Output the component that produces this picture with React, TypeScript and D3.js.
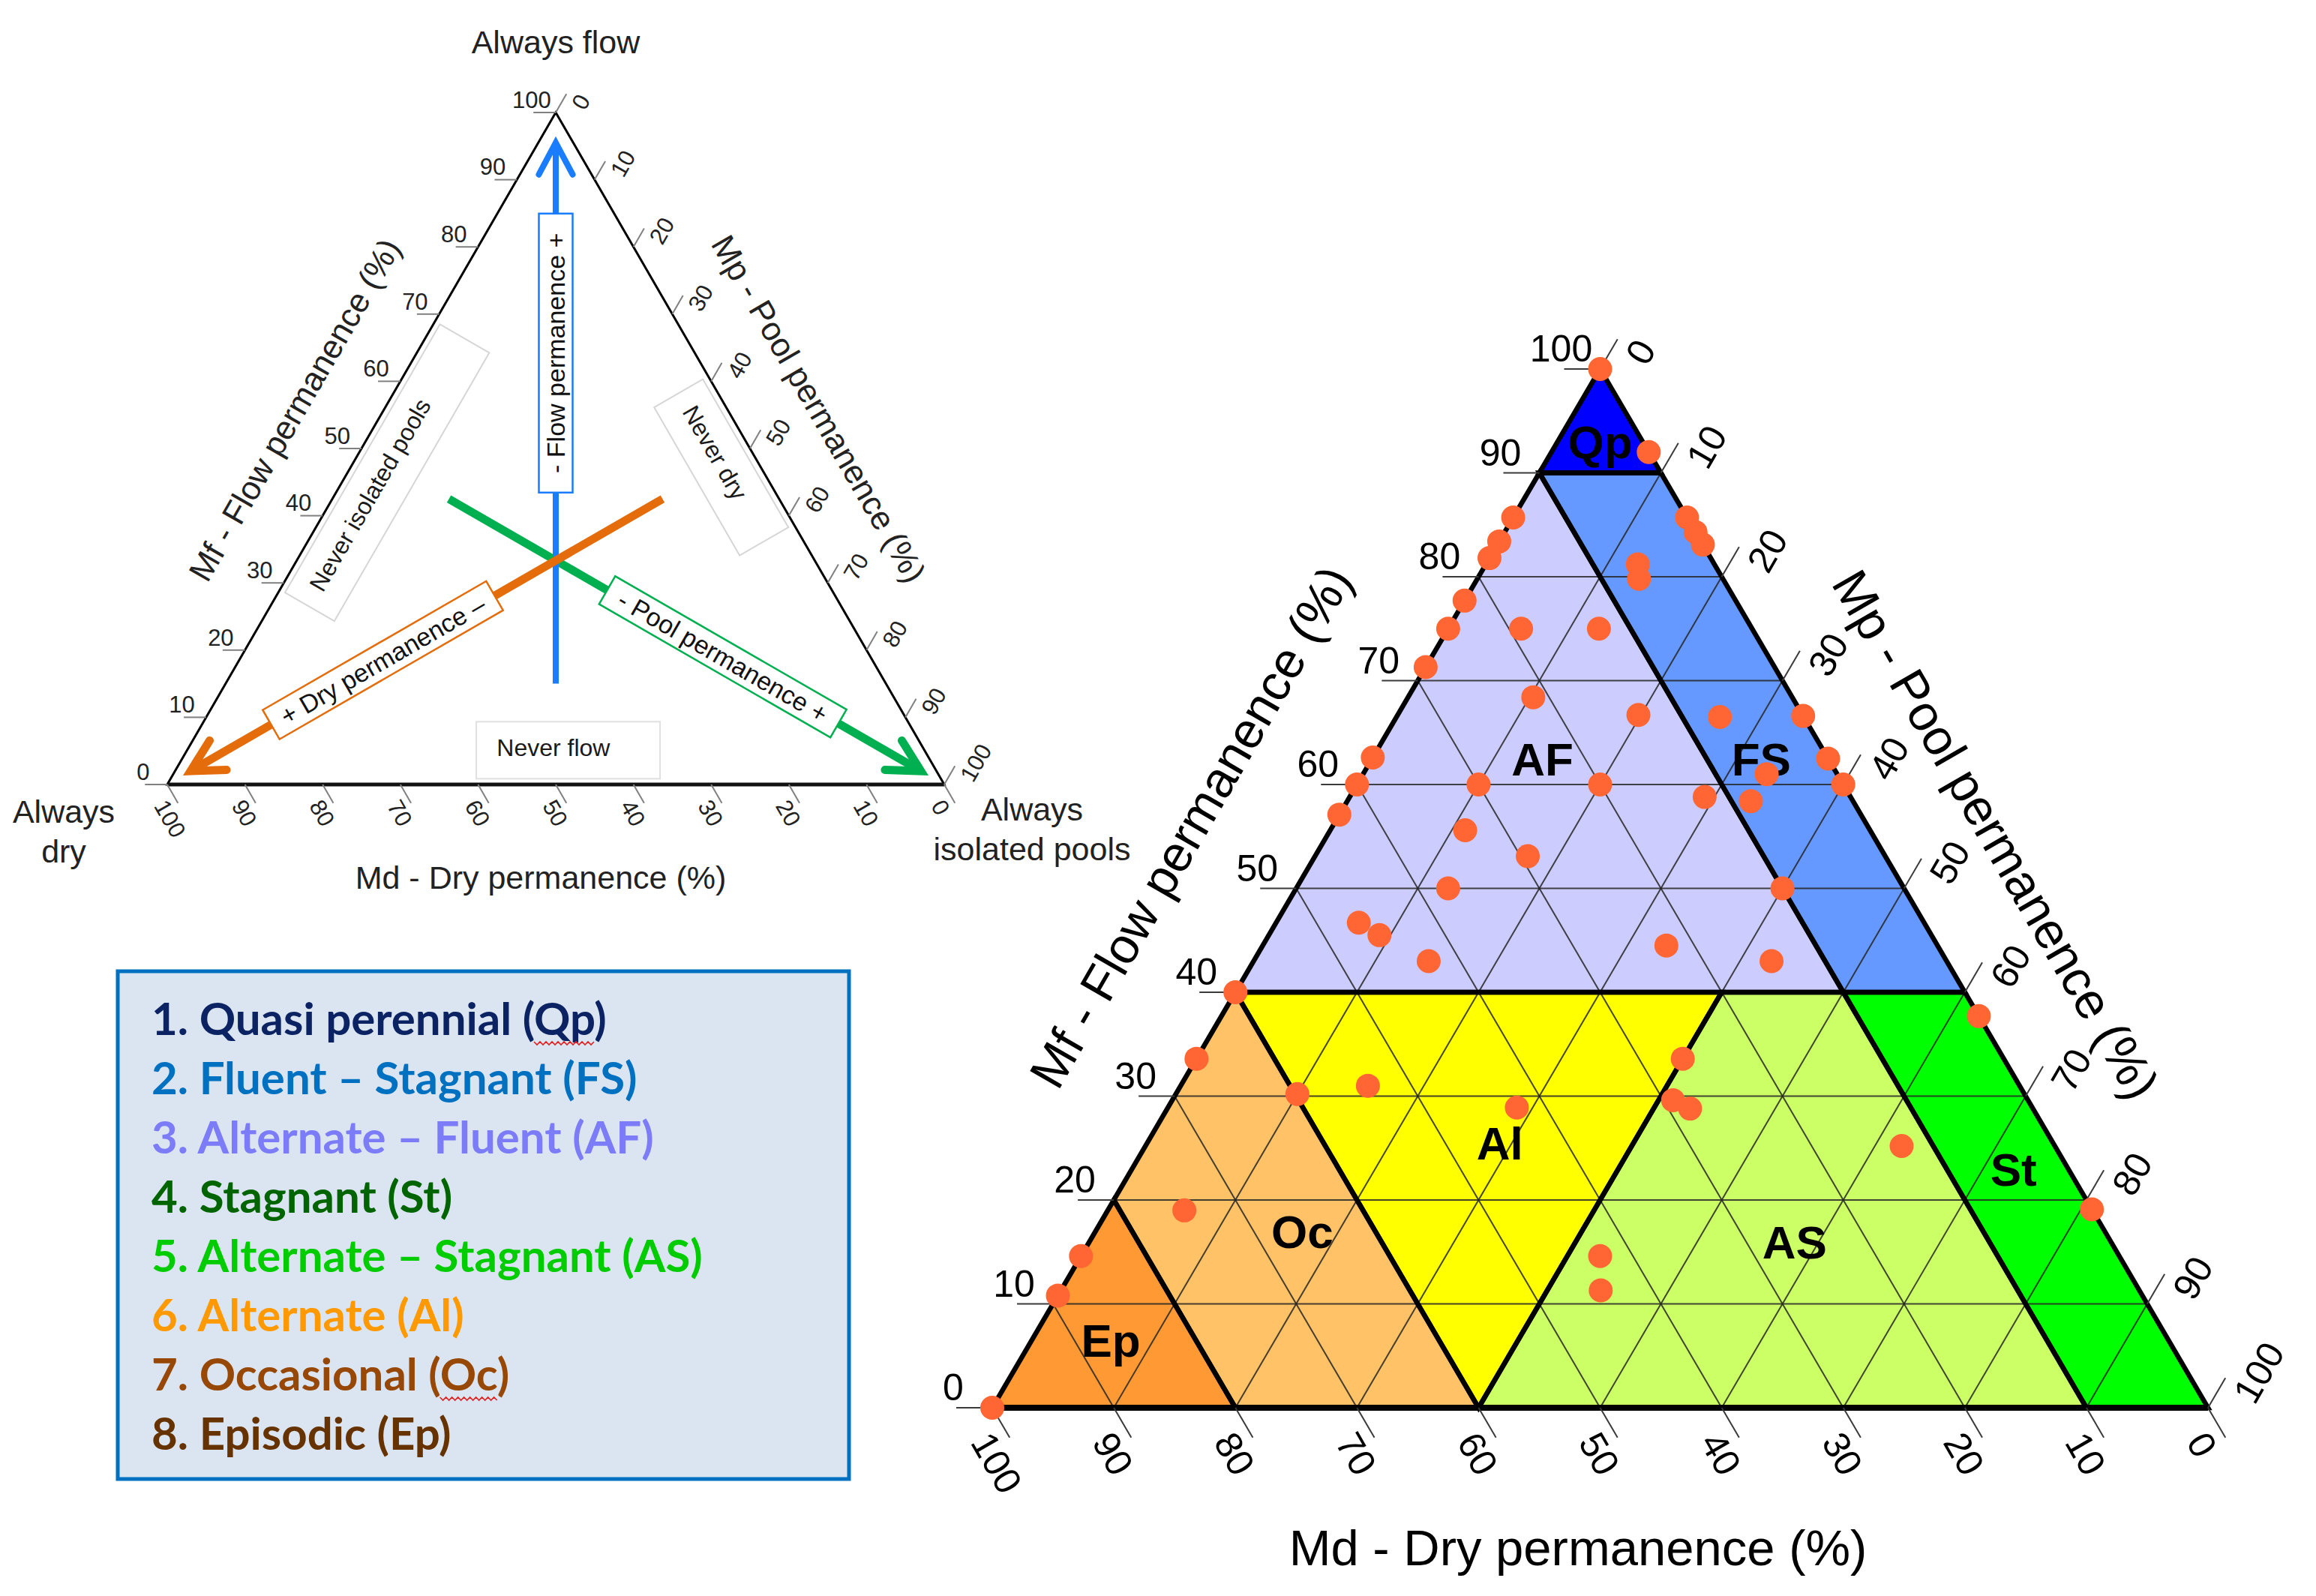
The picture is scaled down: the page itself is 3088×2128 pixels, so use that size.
import React, { useEffect, useRef } from "react";
import * as d3 from "d3";

const W = 3088;
const H = 2128;
const FONT = "'Liberation Sans', Arial, Helvetica, sans-serif";
const LEGEND_FONT = "Lato, 'Open Sans', 'Noto Sans', sans-serif";

// ---- tick labels shared by the three axes ----
const tickLabels = [0, 10, 20, 30, 40, 50, 60, 70, 80, 90, 100];

// ---- sites: Mf (flow), Md (dry), Mp (pool) permanence, % ----
const flowPerm = [100, 92, 85.7, 83.4, 81.8, 85.7, 84.3, 83.1, 81.2, 79.8, 77.7, 75, 75, 75, 71.3, 68.4, 66.7, 66.5, 66.6, 62.5, 61, 60, 58.4, 58.8, 60, 60, 62.6, 60, 57.1, 55.6, 53.1, 50, 50, 46.7, 45.5, 43, 44.5, 43, 40, 33.6, 30.2, 31, 28.9, 33.6, 29.6, 28.8, 37.7, 25.2, 19.1, 19, 14.6, 10.8, 14.6, 11.3, 0];
const dryPerm = [0, 0, 14.3, 16.6, 18.2, 0, 0, 0, 6.3, 6.9, 22.3, 25, 19, 12.6, 28.7, 21.3, 13.5, 6.9, 0, 0, 5.8, 0, 8.4, 12, 30, 20, 37.4, 40, 42.9, 33.3, 29.4, 37.5, 10, 46.5, 45.4, 42.6, 22.3, 14.4, 60, 66.4, 59.8, 53.6, 42.4, 26.4, 29.2, 28.2, 0, 12.6, 0, 74.7, 85.4, 89.2, 42.7, 44.3, 100];
const poolPerm = [0, 8, 0, 0, 0, 14.3, 15.7, 16.9, 12.5, 13.3, 0, 0, 6, 12.4, 0, 10.3, 19.8, 26.6, 33.4, 37.5, 33.2, 40, 33.2, 29.2, 10, 20, 0, 0, 0, 11.1, 17.5, 12.5, 40, 6.8, 9.1, 14.4, 33.2, 42.6, 0, 0, 10, 15.4, 28.7, 40, 41.2, 43, 62.3, 62.2, 80.9, 6.3, 0, 0, 42.7, 44.4, 0];

// ---- regime classes (corners as [Mf, Md, Mp]) ----
const regimeCodes = ["Qp", "FS", "AF", "St", "AS", "Al", "Oc", "Ep"];
const regimeFill = ["#0000FF", "#6699FF", "#CCCCFF", "#00FF00", "#CCFF66", "#FFFF00", "#FFC266", "#FF9933"];
const regimeCorners = [
  [[100, 0, 0], [90, 10, 0], [90, 0, 10]],
  [[90, 10, 0], [90, 0, 10], [40, 0, 60], [40, 10, 50]],
  [[90, 10, 0], [40, 10, 50], [40, 60, 0]],
  [[40, 10, 50], [40, 0, 60], [0, 0, 100], [0, 10, 90]],
  [[40, 10, 50], [0, 10, 90], [0, 60, 40], [40, 20, 40]],
  [[40, 60, 0], [40, 20, 40], [0, 60, 40]],
  [[40, 60, 0], [0, 60, 40], [0, 80, 20], [20, 80, 0]],
  [[20, 80, 0], [0, 80, 20], [0, 100, 0]],
];
const regimeLabelAt = [[93, 3.5, 3.5], [62.5, 5.5, 32], [62.5, 23.5, 14], [23, 4.5, 72.5], [16, 26, 58], [25.5, 45.5, 29], [17, 66, 17], [6.5, 87, 6.5]];

// ---- legend ----
const legendLabels = [
  "1. Quasi perennial (Qp)",
  "2. Fluent \u2013 Stagnant (FS)",
  "3. Alternate \u2013 Fluent (AF)",
  "4. Stagnant (St)",
  "5. Alternate \u2013 Stagnant (AS)",
  "6. Alternate (Al)",
  "7. Occasional (Oc)",
  "8. Episodic (Ep)",
];
const legendColors = ["#0C2363", "#0070C0", "#7C7CF8", "#006400", "#00CC00", "#FF9900", "#974806", "#663300"];
const legendFlagged = ["Qp", "", "", "", "", "", "Oc", ""];

type P = [number, number];
type Sel = d3.Selection<any, any, any, any>;

function ternary(xl: number, xr: number, yb: number, ya: number) {
  const sx = d3.scaleLinear().domain([0, 100]).range([xl, xr]);
  const sy = d3.scaleLinear().domain([0, 100]).range([yb, ya]);
  return (mf: number, md: number, mp: number): P => {
    const s = (mf + md + mp) / 100;
    const f = mf / s;
    const p = mp / s;
    return [sx(p + f / 2), sy(f)];
  };
}

function unit(a: P, b: P): P {
  const dx = b[0] - a[0];
  const dy = b[1] - a[1];
  const l = Math.hypot(dx, dy);
  return [dx / l, dy / l];
}

function seg(g: Sel, a: P, b: P) {
  return g.append("line").attr("x1", a[0]).attr("y1", a[1]).attr("x2", b[0]).attr("y2", b[1]);
}

function label(g: Sel, x: number, y: number, s: string, size: number, o: any = {}) {
  const t = g
    .append("text")
    .attr("transform", `translate(${x},${y})${o.rotate ? ` rotate(${o.rotate})` : ""}`)
    .attr("font-family", o.family || FONT)
    .attr("font-size", size)
    .attr("text-anchor", o.anchor || "middle")
    .attr("fill", o.fill || "#000")
    .text(s);
  if (o.weight) t.attr("font-weight", o.weight);
  if (o.dy) t.attr("dy", o.dy);
  return t;
}

function drawAxes(g: Sel, T: (a: number, b: number, c: number) => P, k: number, tickColor: string, labelColor: string) {
  const apex = T(100, 0, 0), bl = T(0, 100, 0), br = T(0, 0, 100);
  const dMd = unit(apex, br);
  const dMp = unit(bl, apex);
  const tickLen = 46 * k;
  const fs = 50 * k;
  const ticks = g.append("g").attr("stroke", tickColor).attr("stroke-width", 2);
  tickLabels.forEach((v) => {
    const e = T(v, 100 - v, 0);
    seg(ticks, [e[0] - 48 * k, e[1]], e);
    label(g, e[0] - 52 * k, e[1] - 10 * k, String(v), fs, { fill: labelColor });
    const b = T(0, v, 100 - v);
    seg(ticks, b, [b[0] + dMd[0] * tickLen, b[1] + dMd[1] * tickLen]);
    label(g, b[0] - 30 * k, b[1] + 46 * k, String(v), fs, { anchor: "start", rotate: 60, fill: labelColor });
    const r = T(100 - v, 0, v);
    seg(ticks, r, [r[0] + dMp[0] * tickLen, r[1] + dMp[1] * tickLen]);
    label(g, r[0] + 62 * k, r[1] - 2 * k, String(v), fs, { anchor: "start", rotate: -60, fill: labelColor });
  });
}

function edgeTitles(g: Sel, T: (a: number, b: number, c: number) => P, dl: number, dr: number, size: number, fill: string) {
  const apex = T(100, 0, 0), bl = T(0, 100, 0), br = T(0, 0, 100);
  const ml: P = [(apex[0] + bl[0]) / 2, (apex[1] + bl[1]) / 2];
  const el = unit(bl, apex);
  const nl: P = [el[1], -el[0]];
  label(g, ml[0] + nl[0] * dl, ml[1] + nl[1] * dl, "Mf - Flow permanence (%)", size, { rotate: -60, dy: "0.35em", fill });
  const mr: P = [(apex[0] + br[0]) / 2, (apex[1] + br[1]) / 2];
  const er = unit(apex, br);
  const nr: P = [er[1], -er[0]];
  label(g, mr[0] + nr[0] * dr, mr[1] + nr[1] * dr, "Mp - Pool permanence (%)", size, { rotate: 60, dy: "0.35em", fill });
}

function arrow(g: Sel, from: P, tip: P, color: string, w: number) {
  seg(g, from, tip).attr("stroke", color).attr("stroke-width", w);
  const back = unit(tip, from);
  const ang = (28 * Math.PI) / 180;
  const len = 48;
  const rot = (v: P, a: number): P => [v[0] * Math.cos(a) - v[1] * Math.sin(a), v[0] * Math.sin(a) + v[1] * Math.cos(a)];
  const a1 = rot(back, ang), a2 = rot(back, -ang);
  g.append("path")
    .attr("d", `M${tip[0] + a1[0] * len},${tip[1] + a1[1] * len}L${tip[0]},${tip[1]}L${tip[0] + a2[0] * len},${tip[1] + a2[1] * len}`)
    .attr("fill", "none")
    .attr("stroke", color)
    .attr("stroke-width", w)
    .attr("stroke-linecap", "round");
}

function tagBox(g: Sel, c: P, angle: number, len: number, wid: number, stroke: string, text: string, size: number, strokeW: number, textAt?: P) {
  const b = g.append("g").attr("transform", `translate(${c[0]},${c[1]}) rotate(${angle})`);
  b.append("rect")
    .attr("x", -len / 2)
    .attr("y", -wid / 2)
    .attr("width", len)
    .attr("height", wid)
    .attr("fill", "#fff")
    .attr("stroke", stroke)
    .attr("stroke-width", strokeW);
  if (textAt) {
    label(g, textAt[0], textAt[1], text, size, { rotate: angle, dy: "0.35em", fill: "#1a1a1a" });
  } else {
    label(b, 0, 0, text, size, { dy: "0.35em", fill: "#111" });
  }
}

function draw(svg: Sel) {
  svg.append("rect").attr("width", W).attr("height", H).attr("fill", "#fff");

  // ================= LEFT (schematic) TRIANGLE =================
  const L = ternary(223, 1259, 1046, 150);
  const gl = svg.append("g");
  const lA = L(100, 0, 0), lB = L(0, 100, 0), lC = L(0, 0, 100);

  tagBox(gl, L(46.4, 48.5, 5.1), -60, 413, 76, "#d6d6d6", "Never isolated pools", 32, 2, L(43.1, 52.35, 4.55));
  tagBox(gl, L(47.2, 5.1, 47.7), 60, 228, 75, "#d6d6d6", "Never dry", 32, 2, L(49.4, 4.8, 45.8));
  tagBox(gl, L(5.1, 45.85, 49.05), 0, 245, 76, "#e0e0e0", "Never flow", 32, 2, L(5.5, 47.55, 46.95));

  gl.append("path")
    .attr("d", d3.line()([lA, lB, lC]) + "Z")
    .attr("fill", "none")
    .attr("stroke", "#000")
    .attr("stroke-width", 3);
  seg(gl, lB, lC).attr("stroke", "#111").attr("stroke-width", 5);

  drawAxes(gl, L, 0.62, "#808080", "#222");
  edgeTitles(gl, L, 103, 106, 44, "#222");
  label(gl, (lB[0] + lC[0]) / 2 - 20, 1185, "Md - Dry permanence (%)", 43, { fill: "#222" });
  label(gl, lA[0], 71, "Always flow", 43, { fill: "#222" });
  label(gl, 85, 1097, "Always", 43, { fill: "#222" });
  label(gl, 85, 1150, "dry", 43, { fill: "#222" });
  label(gl, 1376, 1094, "Always", 43, { fill: "#222" });
  label(gl, 1376, 1147, "isolated pools", 43, { fill: "#222" });

  const ga = gl.append("g");
  arrow(ga, L(42.5, 42.5, 15), L(2, 2, 96), "#00B050", 11);
  arrow(ga, L(15, 42.5, 42.5), L(95.5, 2.25, 2.25), "#1A7CFF", 8);
  arrow(ga, L(42.5, 15, 42.5), L(2, 96, 2), "#E46C0A", 11);
  tagBox(ga, L(64.2, 17.9, 17.9), -90, 372, 45, "#1A7CFF", "- Flow permanence +", 34, 2.5);
  const oDir = unit(L(2, 96, 2), L(42.5, 15, 42.5));
  tagBox(ga, L(18.5, 63, 18.5), (Math.atan2(oDir[1], oDir[0]) * 180) / Math.PI, 344, 45, "#E46C0A", "+ Dry permanence \u2013", 34, 2.5);
  const gDir = unit(L(42.5, 42.5, 15), L(2, 2, 96));
  tagBox(ga, L(19, 19, 62), (Math.atan2(gDir[1], gDir[0]) * 180) / Math.PI, 356, 43, "#00B050", "- Pool permanence +", 34, 2.5);

  // ================= RIGHT (classification) TRIANGLE =================
  const R = ternary(1323, 2944, 1877, 492);
  const gr = svg.append("g");
  const line = d3.line();
  const poly = (c: number[][]) => line(c.map((q) => R(q[0], q[1], q[2]))) + "Z";

  regimeCorners.forEach((c, i) => {
    gr.append("path").attr("d", poly(c)).attr("fill", regimeFill[i]);
  });

  const grid = gr.append("g").attr("stroke", "#262626").attr("stroke-width", 2).attr("stroke-opacity", 0.85);
  tickLabels.slice(1, -1).forEach((v) => {
    seg(grid, R(v, 100 - v, 0), R(v, 0, 100 - v));
    seg(grid, R(100 - v, v, 0), R(0, v, 100 - v));
    seg(grid, R(100 - v, 0, v), R(0, 100 - v, v));
  });

  regimeCorners.forEach((c) => {
    gr.append("path")
      .attr("d", poly(c))
      .attr("fill", "none")
      .attr("stroke", "#000")
      .attr("stroke-width", 6.5)
      .attr("stroke-linejoin", "miter");
  });
  const rB = R(0, 100, 0), rC = R(0, 0, 100);
  seg(gr, rB, rC).attr("stroke", "#000").attr("stroke-width", 8);

  drawAxes(gr, R, 1, "#3a3a3a", "#000");
  edgeTitles(gr, R, 163, 142, 67, "#000");
  label(gr, 2104, 2087, "Md - Dry permanence (%)", 67);

  regimeCodes.forEach((code, i) => {
    const p = R(regimeLabelAt[i][0], regimeLabelAt[i][1], regimeLabelAt[i][2]);
    label(gr, p[0], p[1], code, 62, { weight: 700, dy: "0.36em" });
  });

  const dots = gr.append("g").attr("fill", "#FF6633");
  flowPerm.forEach((f, i) => {
    const p = R(f, dryPerm[i], poolPerm[i]);
    dots.append("circle").attr("cx", p[0]).attr("cy", p[1]).attr("r", 16);
  });

  // ================= LEGEND =================
  const lg = svg.append("g");
  lg.append("rect")
    .attr("x", 157)
    .attr("y", 1295)
    .attr("width", 975)
    .attr("height", 677)
    .attr("fill", "#DBE5F1")
    .attr("stroke", "#0070C0")
    .attr("stroke-width", 5);
  legendLabels.forEach((s, i) => {
    const y = 1380 + i * 79;
    const t = label(lg, 202, y, s, 60, { anchor: "start", family: LEGEND_FONT, weight: 700, fill: legendColors[i] });
    const w = legendFlagged[i];
    if (w) {
      try {
        const node = t.node() as SVGTextElement;
        const idx = s.lastIndexOf(w);
        const x0 = 202 + node.getSubStringLength(0, idx);
        const ww = node.getSubStringLength(idx, w.length);
        const pts: P[] = [];
        let k = 0;
        for (let x = x0; x <= x0 + ww; x += 4, k++) pts.push([x, y + 9 + (k % 2 ? 4 : 0)]);
        lg.append("path").attr("d", d3.line()(pts)).attr("fill", "none").attr("stroke", "#E02020").attr("stroke-width", 1.6);
      } catch (e) {
        /* ignore */
      }
    }
  });
}

export default function App() {
  const ref = useRef<SVGSVGElement>(null);
  useEffect(() => {
    const svg = d3.select(ref.current);
    svg.selectAll("*").remove();
    draw(svg as any);
  }, []);
  return (
    <svg
      ref={ref}
      width={W}
      height={H}
      viewBox={`0 0 ${W} ${H}`}
      style={{ position: "absolute", left: 0, top: 0, display: "block", background: "#fff" }}
    />
  );
}
